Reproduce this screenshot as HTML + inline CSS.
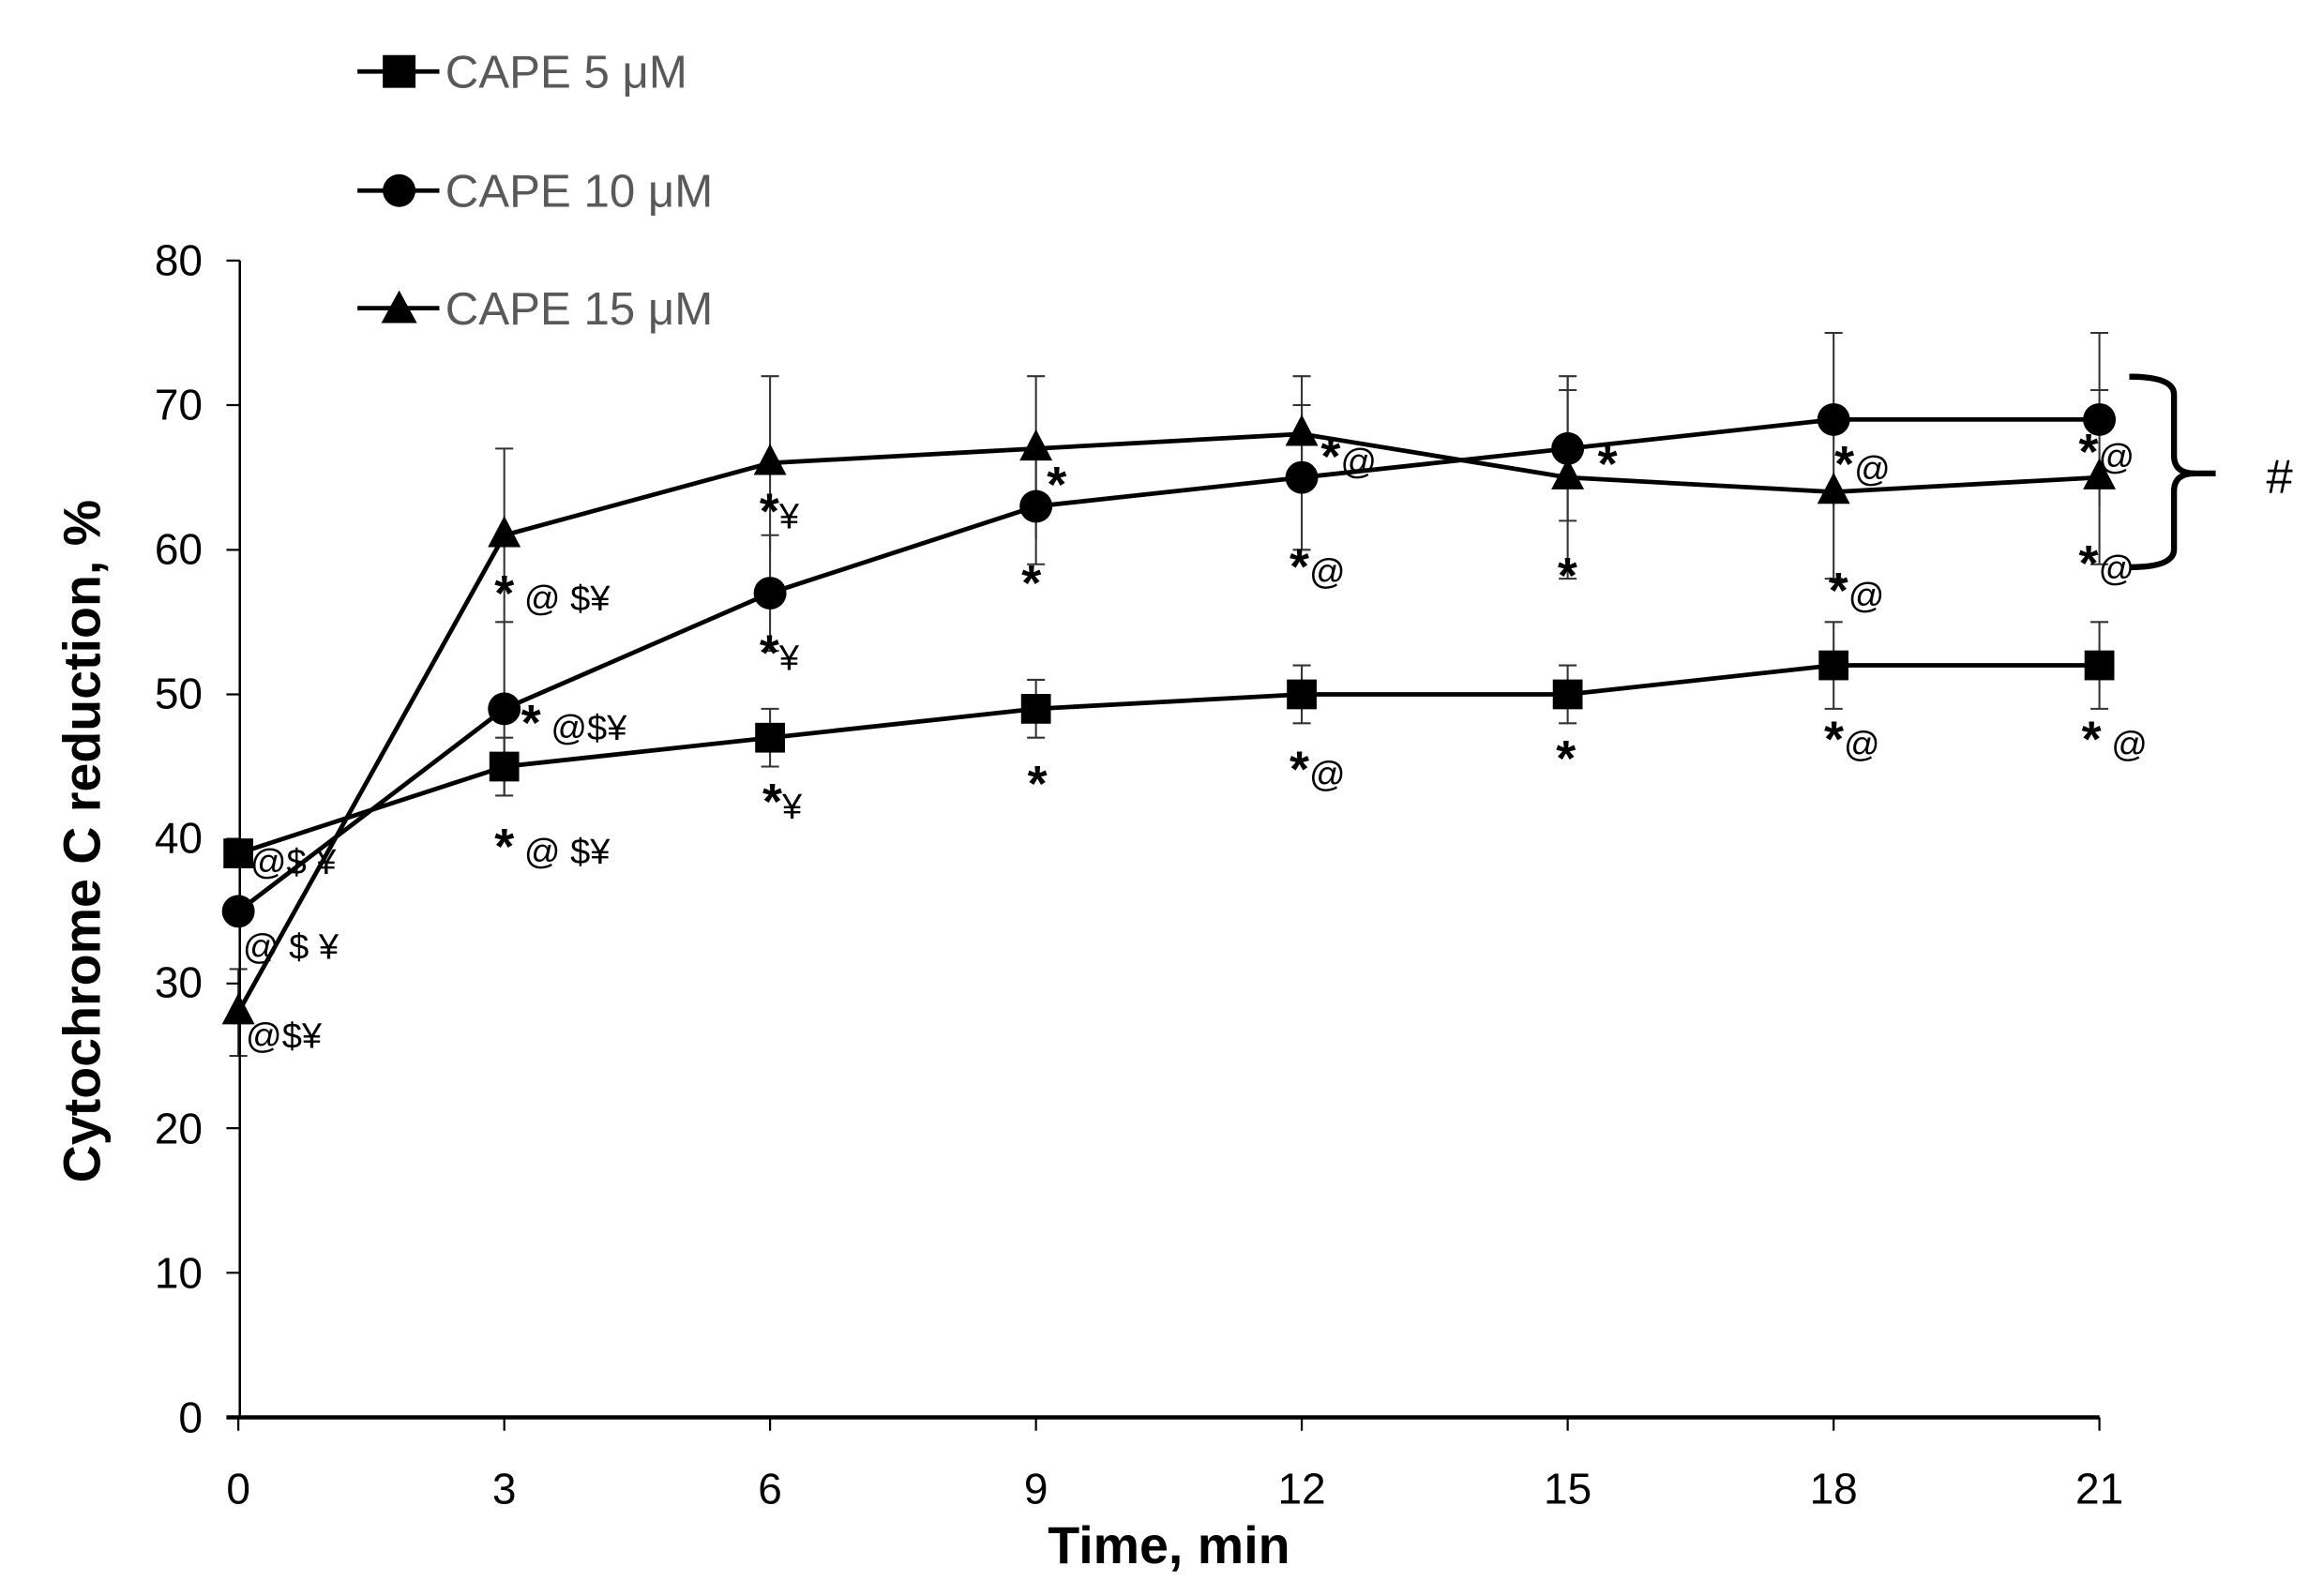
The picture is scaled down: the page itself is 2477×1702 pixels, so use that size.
<!DOCTYPE html>
<html><head><meta charset="utf-8"><style>html,body{margin:0;padding:0;background:#fff}svg{display:block}.s{font-size:34px;font-weight:bold}</style></head>
<body>
<svg width="2477" height="1702" viewBox="0 0 1560 1072" xmlns="http://www.w3.org/2000/svg" font-family="'Liberation Sans', sans-serif">
<rect width="1560" height="1072" fill="#fff"/>
<g stroke="#333" stroke-width="1.3" fill="none">
<path d="M338.6 534.4V495.5M332.6 534.4h12M332.6 495.5h12"/>
<path d="M517.1 514.9V476.1M511.1 514.9h12M511.1 476.1h12"/>
<path d="M695.7 495.5V456.6M689.7 495.5h12M689.7 456.6h12"/>
<path d="M874.2 485.8V446.9M868.2 485.8h12M868.2 446.9h12"/>
<path d="M1052.8 485.8V446.9M1046.8 485.8h12M1046.8 446.9h12"/>
<path d="M1231.4 476.1V417.8M1225.4 476.1h12M1225.4 417.8h12"/>
<path d="M1409.9 476.1V417.8M1403.9 476.1h12M1403.9 417.8h12"/>
<path d="M338.6 534.4V417.8M332.6 417.8h12"/>
<path d="M517.1 437.2V359.5M511.1 437.2h12M511.1 359.5h12"/>
<path d="M695.7 379V301.3M689.7 379h12"/>
<path d="M874.2 369.3V272.1M868.2 369.3h12M868.2 272.1h12"/>
<path d="M1052.8 349.8V252.7M1046.8 349.8h12M1046.8 262h12"/>
<path d="M1231.4 340.1V223.6M1225.4 223.6h12"/>
<path d="M1409.9 340.1V223.6M1403.9 223.6h12M1403.9 262h12"/>
<path d="M160 709.2V650.9M154 709.2h12M154 650.9h12"/>
<path d="M338.6 417.8V301.3M332.6 301.3h12"/>
<path d="M517.1 369.3V252.7M511.1 252.7h12"/>
<path d="M695.7 362V252.7M689.7 252.7h12"/>
<path d="M874.2 330.4V252.7M868.2 252.7h12"/>
<path d="M1052.8 388.7V252.7M1046.8 388.7h12M1046.8 252.7h12"/>
<path d="M1231.4 388.7V330M1225.4 388.7h12"/>
<path d="M1409.9 379V320M1403.9 379h12"/>
</g>
<g stroke="#000" fill="none">
<path d="M161 175V952" stroke-width="1.6"/>
<path d="M152 952H1410" stroke-width="2.8"/>
<path d="M152 175h9M152 272.1h9M152 369.3h9M152 466.4h9M152 563.5h9M152 660.6h9M152 757.8h9M152 854.9h9" stroke-width="1.4"/>
<path d="M160 952v9M338.6 952v9M517.1 952v9M695.7 952v9M874.2 952v9M1052.8 952v9M1231.4 952v9M1409.9 952v9" stroke-width="1.4"/>
</g>
<g font-size="29" text-anchor="end" fill="#000">
<text x="136" y="185">80</text><text x="136" y="282">70</text><text x="136" y="379">60</text><text x="136" y="476">50</text><text x="136" y="573">40</text><text x="136" y="670">30</text><text x="136" y="768">20</text><text x="136" y="865">10</text><text x="136" y="962">0</text>
</g>
<g font-size="29" text-anchor="middle" fill="#000">
<text x="160" y="1010">0</text><text x="338.6" y="1010">3</text><text x="517.1" y="1010">6</text><text x="695.7" y="1010">9</text><text x="874.2" y="1010">12</text><text x="1052.8" y="1010">15</text><text x="1231.4" y="1010">18</text><text x="1409.9" y="1010">21</text>
</g>
<text x="785" y="1050" font-size="35" font-weight="bold" text-anchor="middle">Time, min</text>
<text transform="translate(67,565) rotate(-90)" font-size="35" font-weight="bold" text-anchor="middle">Cytochrome C reduction, %</text>
<g stroke="#000" stroke-width="3" fill="none">
<polyline points="160,573.2 338.6,514.9 517.1,495.5 695.7,476.1 874.2,466.4 1052.8,466.4 1231.4,446.9 1409.9,446.9"/>
<polyline points="160,612.1 338.6,476.1 517.1,398.4 695.7,340.1 874.2,320.7 1052.8,301.3 1231.4,281.8 1409.9,281.8"/>
<polyline points="160,680 338.6,359.5 517.1,311 695.7,301.3 874.2,291.5 1052.8,320.7 1231.4,330.4 1409.9,320.7"/>
</g>
<g fill="#000">
<rect x="150" y="563.2" width="20" height="20"/><rect x="328.6" y="504.9" width="20" height="20"/><rect x="507.1" y="485.5" width="20" height="20"/><rect x="685.7" y="466.1" width="20" height="20"/><rect x="864.2" y="456.4" width="20" height="20"/><rect x="1042.8" y="456.4" width="20" height="20"/><rect x="1221.4" y="436.9" width="20" height="20"/><rect x="1399.9" y="436.9" width="20" height="20"/>
<circle cx="160" cy="612.1" r="11"/><circle cx="338.6" cy="476.1" r="11"/><circle cx="517.1" cy="398.4" r="11"/><circle cx="695.7" cy="340.1" r="11"/><circle cx="874.2" cy="320.7" r="11"/><circle cx="1052.8" cy="301.3" r="11"/><circle cx="1231.4" cy="281.8" r="11"/><circle cx="1409.9" cy="281.8" r="11"/>
<path d="M160 667l-11 21h22zM338.6 346.5l-11 21h22zM517.1 298l-11 21h22zM695.7 288.3l-11 21h22zM874.2 278.5l-11 21h22zM1052.8 307.7l-11 21h22zM1231.4 317.4l-11 21h22zM1409.9 307.7l-11 21h22z"/>
</g>
<g stroke="#000" stroke-width="3"><path d="M240 48h55M240 128h55M240 207h55"/></g>
<g fill="#000"><rect x="257" y="37" width="22" height="22"/><circle cx="268" cy="128" r="11"/><path d="M268 195l-12 22h24z"/></g>
<g font-size="31" fill="#595959"><text x="299" y="59">CAPE 5 μM</text><text x="299" y="139">CAPE 10 μM</text><text x="299" y="218">CAPE 15 μM</text></g>
<g font-size="24" fill="#000">
<text x="168" y="587">@$ ¥</text><text x="163" y="644">@ $ ¥</text><text x="165" y="704">@$¥</text>
<text x="332" y="410"><tspan class="s">*</tspan> @ $¥</text><text x="350" y="497"><tspan class="s">*</tspan> @$¥</text><text x="332" y="580"><tspan class="s">*</tspan> @ $¥</text>
<text x="510" y="355"><tspan class="s">*</tspan>¥</text><text x="510" y="450"><tspan class="s">*</tspan>¥</text><text x="512" y="550"><tspan class="s">*</tspan>¥</text>
<text x="703" y="337"><tspan class="s">*</tspan></text><text x="686" y="403"><tspan class="s">*</tspan></text><text x="690" y="538"><tspan class="s">*</tspan></text>
<text x="887" y="318"><tspan class="s">*</tspan>@</text><text x="866" y="392"><tspan class="s">*</tspan>@</text><text x="866" y="528"><tspan class="s">*</tspan>@</text>
<text x="1073" y="323"><tspan class="s">*</tspan></text><text x="1046" y="398"><tspan class="s">*</tspan></text><text x="1045" y="521"><tspan class="s">*</tspan></text>
<text x="1232" y="323"><tspan class="s">*</tspan>@</text><text x="1228" y="408"><tspan class="s">*</tspan>@</text><text x="1225" y="508"><tspan class="s">*</tspan>@</text>
<text x="1396" y="315"><tspan class="s">*</tspan>@</text><text x="1396" y="390"><tspan class="s">*</tspan>@</text><text x="1398" y="508"><tspan class="s">*</tspan> @</text>
</g>
<path d="M1430 253q30 0 30 12V306q0 12 14 12h14M1474 318q-14 0-14 12V369q0 12-30 12" stroke="#000" stroke-width="4" fill="none"/>
<text x="1522" y="331" font-size="32" fill="#000">#</text>
</svg>
</body></html>
